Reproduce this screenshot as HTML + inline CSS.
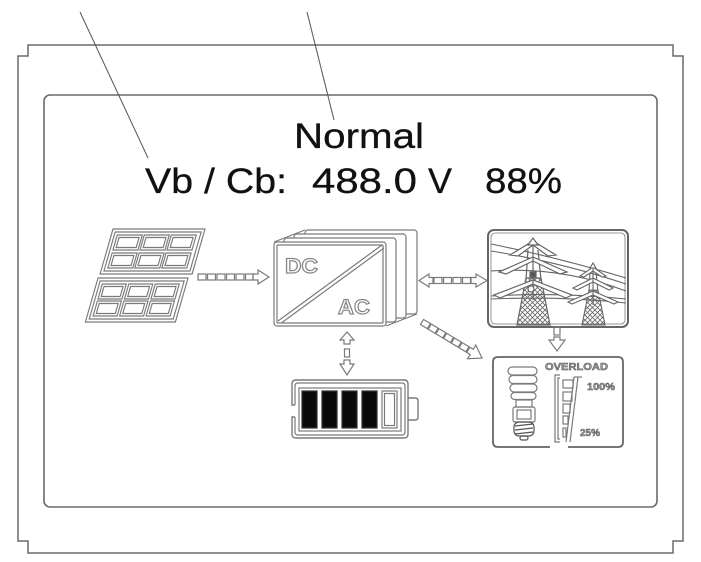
<!DOCTYPE html>
<html><head><meta charset="utf-8"><style>
html,body{margin:0;padding:0;background:#fff;}
svg{display:block;}
text{font-family:"Liberation Sans",Arial,sans-serif;}
</style></head><body>
<svg width="701" height="562" viewBox="0 0 701 562" xmlns="http://www.w3.org/2000/svg">
<defs>
<pattern id="mesh" width="5" height="5" patternUnits="userSpaceOnUse">
<path d="M0,0 L5,5 M5,0 L0,5" stroke="#666" stroke-width="0.8" fill="none"/>
</pattern>
</defs>
<rect width="701" height="562" fill="#fff"/>
<!-- outer frame -->
<path d="M28,45 H673 V56 H683 V541 H673 V553 H28 V541 H18 V56 H28 Z" fill="none" stroke="#6a6a6a" stroke-width="1.5"/>
<!-- inner box -->
<rect x="44" y="95" width="613" height="412" rx="6" fill="none" stroke="#6a6a6a" stroke-width="1.6"/>
<!-- callout lines -->
<line x1="80" y1="12" x2="148" y2="158" stroke="#555" stroke-width="1"/>
<line x1="307" y1="12" x2="334" y2="120" stroke="#555" stroke-width="1"/>

<!-- texts -->
<g fill="#111" font-size="35" stroke="#111" stroke-width="0.3">
<text x="294" y="148" textLength="130" lengthAdjust="spacingAndGlyphs">Normal</text>
<text x="145" y="193" textLength="142" lengthAdjust="spacingAndGlyphs">Vb / Cb:</text>
<text x="312" y="193" textLength="105" lengthAdjust="spacingAndGlyphs">488.0</text>
<text x="428" y="193" textLength="24" lengthAdjust="spacingAndGlyphs">V</text>
<text x="485" y="193" textLength="77" lengthAdjust="spacingAndGlyphs">88%</text>
</g>

<g fill="none" stroke="#7a7a7a" stroke-width="1.2">
<!-- solar panel top -->
<g transform="translate(113,229) skewX(-16)">
<rect x="0" y="0" width="92" height="45" fill="#fff"/>
<rect x="3" y="3" width="86" height="39"/>
<rect x="6" y="6" width="25" height="15"/><rect x="8.5" y="8.5" width="20" height="10"/>
<rect x="33" y="6" width="25" height="15"/><rect x="35.5" y="8.5" width="20" height="10"/>
<rect x="60" y="6" width="25" height="15"/><rect x="62.5" y="8.5" width="20" height="10"/>
<rect x="6" y="24" width="25" height="15"/><rect x="8.5" y="26.5" width="20" height="10"/>
<rect x="33" y="24" width="25" height="15"/><rect x="35.5" y="26.5" width="20" height="10"/>
<rect x="60" y="24" width="25" height="15"/><rect x="62.5" y="26.5" width="20" height="10"/>
</g>
<!-- solar panel bottom -->
<g transform="translate(98,278) skewX(-16)">
<rect x="0" y="0" width="90" height="44" fill="#fff"/>
<rect x="3" y="3" width="84" height="38"/>
<rect x="6" y="6" width="24" height="15"/><rect x="8.5" y="8.5" width="19" height="10"/>
<rect x="32.5" y="6" width="24" height="15"/><rect x="35" y="8.5" width="19" height="10"/>
<rect x="59" y="6" width="24" height="15"/><rect x="61.5" y="8.5" width="19" height="10"/>
<rect x="6" y="23" width="24" height="15"/><rect x="8.5" y="25.5" width="19" height="10"/>
<rect x="32.5" y="23" width="24" height="15"/><rect x="35" y="25.5" width="19" height="10"/>
<rect x="59" y="23" width="24" height="15"/><rect x="61.5" y="25.5" width="19" height="10"/>
</g>

<!-- arrow solar -> inverter -->
<rect x="198" y="274" width="8" height="6"/><rect x="207.5" y="274" width="8" height="6"/>
<rect x="217" y="274" width="8" height="6"/><rect x="226.5" y="274" width="8" height="6"/>
<rect x="236" y="274" width="8" height="6"/><rect x="245.5" y="274" width="7.5" height="6"/>
<polygon points="253,274 258,274 258,270 269,277 258,284 258,280 253,280"/>

<!-- inverter -->
<line x1="274" y1="242" x2="305" y2="230"/>
<line x1="386" y1="326" x2="417" y2="314"/>
<rect x="305" y="230" width="112" height="84" rx="3" fill="#fff"/>
<rect x="294" y="234" width="112" height="84" rx="3" fill="#fff"/>
<rect x="284" y="238" width="112" height="84" rx="3" fill="#fff"/>
<rect x="274" y="242" width="112" height="84" rx="3" fill="#fff"/>
<rect x="277" y="245" width="106" height="78" rx="1"/>
<line x1="278" y1="321" x2="382" y2="245"/>
<line x1="282" y1="322.5" x2="384" y2="248"/>
</g>
<g fill="#fff" stroke="#888" stroke-width="1.2" font-weight="bold" font-size="21">
<text x="285" y="273" textLength="33" lengthAdjust="spacingAndGlyphs">DC</text>
<text x="338" y="314" textLength="32" lengthAdjust="spacingAndGlyphs">AC</text>
</g>

<g fill="none" stroke="#7a7a7a" stroke-width="1.2">
<!-- bidirectional arrow to grid -->
<polygon points="419,280.5 429,274 429,277.5 433,277.5 433,283.5 429,283.5 429,287"/>
<rect x="434" y="277.5" width="8" height="6"/><rect x="443.5" y="277.5" width="8" height="6"/>
<rect x="453" y="277.5" width="8" height="6"/><rect x="462.5" y="277.5" width="8" height="6"/>
<polygon points="471,277.5 476,277.5 476,274 487,280.5 476,287 476,283.5 471,283.5"/>

<!-- grid box -->
<rect x="488" y="230" width="140" height="97" rx="6" fill="#fff" stroke="#666" stroke-width="2"/>
<rect x="491" y="233" width="134" height="91" rx="4" stroke-width="0.8"/>
<!-- wires -->
<g stroke="#666" stroke-width="1.1">
<path d="M491,244 Q560,258 626,278"/>
<path d="M491,251 Q560,262 626,284"/>
<path d="M491,271 Q560,266 626,291"/>
<path d="M491,296 Q560,292 626,299"/>
<path d="M491,299 Q560,296 626,303"/>
</g>
<!-- big pylon -->
<g fill="#fff" stroke="#666" stroke-width="1.2">
<polygon points="526,278 541,278 550,325 517,325" fill="url(#mesh)"/>
<path d="M528,250 L526,280 M538,250 L541,280"/>
<polygon points="518,256 533,245 548,256 556,255 533,241 510,255" />
<polygon points="506,274 533,261 560,274 567,272 533,257 499,272"/>
<polygon points="500,298 533,284 566,298 572,295 533,280 494,295"/>
<polygon points="528,245 533,238 538,245"/>
<line x1="533" y1="245" x2="533" y2="300"/>
<rect x="530" y="272" width="6" height="5" fill="#555"/>
<circle cx="531" cy="289" r="3"/>
</g>
<!-- small pylon -->
<g fill="#fff" stroke="#666" stroke-width="1.1">
<polygon points="589,290 598,290 605,325 582,325" fill="url(#mesh)"/>
<path d="M590,272 L589,292 M596,272 L598,292"/>
<polygon points="584,277 593,271 602,277 606,276 593,267 580,276"/>
<polygon points="577,290 593,282 609,290 613,288 593,278 573,288"/>
<polygon points="572,304 593,295 614,304 618,302 593,291 568,302"/>
<polygon points="590,268 593,263 596,268"/>
<line x1="593" y1="268" x2="593" y2="305"/>
</g>

<!-- down arrow to load -->
<rect x="554" y="327" width="6" height="8"/>
<polygon points="554,337 560,337 560,340 565,340 557,351 549,340 554,340"/>

<!-- diagonal arrow to load -->
<g transform="translate(422,322) rotate(31)">
<rect x="0" y="-3" width="8" height="6"/><rect x="9" y="-3" width="8" height="6"/>
<rect x="18" y="-3" width="8" height="6"/><rect x="27" y="-3" width="8" height="6"/>
<rect x="36" y="-3" width="8" height="6"/><rect x="45" y="-3" width="8" height="6"/>
<polygon points="54,-3 58,-3 58,-8 70,0 58,8 58,3 54,3"/>
</g>

<!-- load box -->
<path d="M550,447 H498 Q493,447 493,442 V362 Q493,357 498,357 H618 Q623,357 623,362 V442 Q623,447 618,447 H568" stroke="#666" stroke-width="1.8"/>
<!-- bulb -->
<rect x="508" y="367" width="29" height="8" rx="4"/>
<rect x="509" y="375.5" width="28" height="8" rx="4"/>
<rect x="510" y="384" width="27" height="8" rx="4"/>
<rect x="511" y="392.5" width="25" height="7" rx="3.5"/>
<rect x="516" y="400" width="16" height="7"/>
<rect x="513" y="407" width="22" height="15" rx="2"/>
<rect x="517" y="410" width="14" height="9"/>
<rect x="514" y="422" width="20" height="14" rx="5" stroke="#555"/>
<path d="M515,426 L533,424 M515,430 L533,428 M515,434 L533,432" stroke="#555"/>
<rect x="520" y="436" width="8" height="4" rx="2" stroke="#555"/>
<!-- bar graph -->
<path d="M560,375 H555 V442 H560"/>
<path d="M560,378 H558 V439 H560"/>
<rect x="563" y="380" width="10" height="8"/>
<rect x="563" y="392" width="9" height="9"/>
<rect x="563" y="404" width="7" height="9"/>
<rect x="563" y="416" width="5" height="8"/>
<rect x="563" y="428" width="3" height="9"/>
<line x1="574" y1="377" x2="566" y2="442"/>
<line x1="578" y1="377" x2="570" y2="442"/>
<line x1="574" y1="377" x2="582" y2="377"/>
</g>
<g fill="#999" stroke="#555" stroke-width="0.5" font-weight="bold" font-size="10.5">
<text x="545" y="370" textLength="63" lengthAdjust="spacingAndGlyphs">OVERLOAD</text>
<text x="587" y="390" textLength="28" lengthAdjust="spacingAndGlyphs">100%</text>
<text x="580" y="436" textLength="20" lengthAdjust="spacingAndGlyphs">25%</text>
</g>

<g fill="none" stroke="#7a7a7a" stroke-width="1.2">
<!-- vertical bidirectional arrow -->
<polygon points="347,332 354,340 350,340 350,344 344,344 344,340 340,340"/>
<rect x="344.5" y="349" width="5" height="8"/>
<polygon points="344,360 350,360 350,364 354,364 347,375 340,364 344,364"/>

<!-- battery -->
<path d="M295,405 H292 V384 Q292,380 296,380 H404 Q408,380 408,384 V434 Q408,438 404,438 H296 Q292,438 292,434 V417 H295" stroke-width="1.4"/>
<path d="M295,405 V386 Q295,383 298,383 H402 Q405,383 405,386 V432 Q405,435 402,435 H298 Q295,435 295,432 V417"/>
<rect x="299" y="388" width="102" height="43"/>
<path d="M408,398 H415 Q418,398 418,401 V417 Q418,420 415,420 H408" stroke-width="1.4"/>
<rect x="302" y="391" width="15" height="37" fill="#0a0a0a" stroke="#333"/>
<rect x="322" y="391" width="15" height="37" fill="#0a0a0a" stroke="#333"/>
<rect x="342" y="391" width="15" height="37" fill="#0a0a0a" stroke="#333"/>
<rect x="362" y="391" width="15" height="37" fill="#0a0a0a" stroke="#333"/>
<rect x="382" y="391" width="15" height="37"/>
<rect x="384.5" y="393.5" width="10" height="32"/>
</g>
</svg>
</body></html>
